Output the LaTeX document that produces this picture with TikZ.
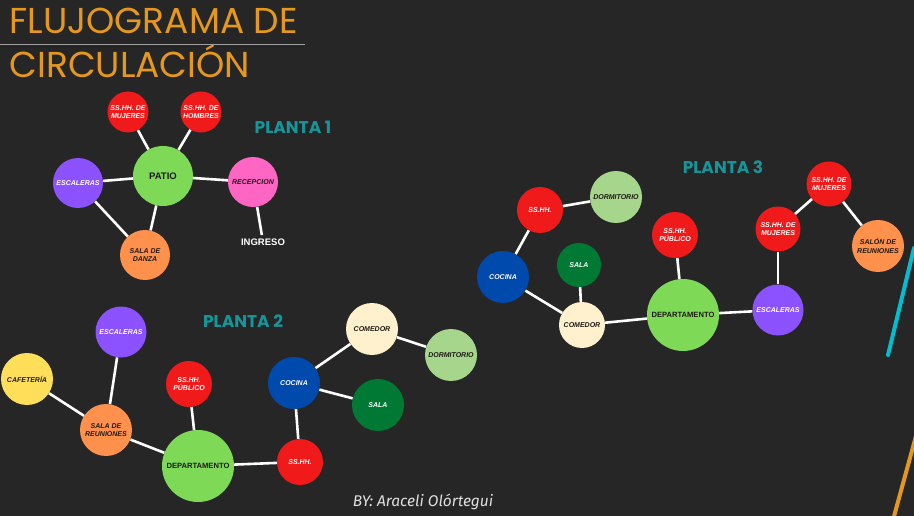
\documentclass[tikz,border=0pt]{standalone}
\usepackage{fontspec}
\setmainfont{Liberation Sans}
\newfontfamily\titlefont{Poppins}
\newfontfamily\byfont{Fira Sans}
\usepackage{xcolor}
\usetikzlibrary{positioning}
\definecolor{bgdark}{RGB}{38, 38, 38}
\definecolor{titleorange}{RGB}{229, 152, 28}
\definecolor{plantateal}{RGB}{22, 150, 155}
\definecolor{ssred}{RGB}{240, 26, 26}
\definecolor{stairpurple}{RGB}{140, 82, 255}
\definecolor{limegreen}{RGB}{126, 217, 87}
\definecolor{hotpink}{RGB}{255, 102, 196}
\definecolor{softorange}{RGB}{255, 145, 77}
\definecolor{sunyellow}{RGB}{255, 222, 89}
\definecolor{deepblue}{RGB}{0, 74, 173}
\definecolor{forestgreen}{RGB}{0, 121, 52}
\definecolor{cream}{RGB}{255, 241, 206}
\definecolor{palegreen}{RGB}{166, 214, 140}
\definecolor{ink}{RGB}{30, 25, 20}
\definecolor{decocyan}{RGB}{0, 190, 210}

\begin{document}
\begin{tikzpicture}[x=1pt, y=-1pt,
  room/.style={circle, inner sep=0pt, minimum size=#1pt, align=center,
               font=\fontsize{7}{8.2}\selectfont\bfseries\itshape},
  dept/.style={circle, inner sep=0pt, minimum size=72pt, fill=limegreen, text=ink,
               font=\fontsize{7.6}{9}\selectfont\bfseries},
  planta/.style={text=plantateal, font=\titlefont\bfseries\fontsize{17}{17}\selectfont},
  link/.style={white, line width=2.6pt}
]
  \useasboundingbox (0,0) rectangle (914,516);
  \fill[bgdark] (0,0) rectangle (914,516);

  \node[anchor=base west, text=titleorange, font=\titlefont\fontsize{36}{36}\selectfont] (title1) at (6,34) {FLUJOGRAMA DE};
  \node[anchor=base west, text=titleorange, font=\titlefont\fontsize{36}{36}\selectfont] (title2) at (6,78) {CIRCULACIÓN};
  \draw[gray!75, line width=1pt] (0,45) -- (305,45);

  % planta 1
  \node[planta] (lbl1) at (293,127) {PLANTA 1};
  \node[room=41, fill=ssred, text=white] (muj1) at (128,112) {SS.HH. DE\\MUJERES};
  \node[room=41, fill=ssred, text=white] (hom1) at (201,112) {SS.HH. DE\\HOMBRES};
  \node[room=60, fill=limegreen, text=ink, font=\fontsize{9.5}{11}\selectfont\bfseries] (patio1) at (163,176) {PATIO};
  \node[room=50, fill=stairpurple, text=white] (esc1) at (78,183) {ESCALERAS};
  \node[room=50, fill=hotpink, text=ink] (rec1) at (253,182) {RECEPCION};
  \node[room=50, fill=softorange, text=ink] (danza1) at (145,255) {SALA DE\\DANZA};
  \node[text=white, font=\fontsize{9.5}{11}\selectfont\bfseries] (ing1) at (263,242) {INGRESO};

  \draw[link] (muj1) -- (patio1);
  \draw[link] (hom1) -- (patio1);
  \draw[link] (esc1) -- (patio1);
  \draw[link] (patio1) -- (rec1);
  \draw[link] (patio1) -- (danza1);
  \draw[link] (esc1) -- (danza1);
  \draw[link] (rec1) -- (ing1);

  % planta 2
  \node[planta] (lbl2) at (243,321) {PLANTA 2};
  \node[room=51, fill=stairpurple, text=white] (esc2) at (121,332) {ESCALERAS};
  \node[room=52, fill=sunyellow, text=ink] (caf2) at (27,379) {CAFETERÍA};
  \node[room=52, fill=softorange, text=ink] (reu2) at (106,430) {SALA DE\\REUNIONES};
  \node[room=46, fill=ssred, text=white] (pub2) at (189,384) {SS.HH.\\PÚBLICO};
  \node[dept] (dep2) at (198,466) {DEPARTAMENTO};
  \node[room=52, fill=deepblue, text=white] (coc2) at (294,383) {COCINA};
  \node[room=52, fill=cream, text=ink] (com2) at (372,329) {COMEDOR};
  \node[room=52, fill=palegreen, text=ink] (dor2) at (451,355) {DORMITORIO};
  \node[room=52, fill=forestgreen, text=white] (sala2) at (378,405) {SALA};
  \node[room=46, fill=ssred, text=white] (ss2) at (300,462) {SS.HH.};

  \draw[link] (caf2) -- (reu2);
  \draw[link] (esc2) -- (reu2);
  \draw[link] (reu2) -- (dep2);
  \draw[link] (pub2) -- (dep2);
  \draw[link] (dep2) -- (ss2);
  \draw[link] (ss2) -- (coc2);
  \draw[link] (coc2) -- (com2);
  \draw[link] (coc2) -- (sala2);
  \draw[link] (com2) -- (dor2);

  % planta 3
  \node[planta] (lbl3) at (723,167) {PLANTA 3};
  \node[room=46, fill=ssred, text=white] (ss3) at (540,210) {SS.HH.};
  \node[room=52, fill=palegreen, text=ink] (dor3) at (616,197) {DORMITORIO};
  \node[room=52, fill=deepblue, text=white] (coc3) at (503,277) {COCINA};
  \node[room=44, fill=forestgreen, text=white] (sala3) at (579,265) {SALA};
  \node[room=46, fill=cream, text=ink] (com3) at (582,325) {COMEDOR};
  \node[room=46, fill=ssred, text=white] (pub3) at (675,235) {SS.HH.\\PÚBLICO};
  \node[dept] (dep3) at (683,315) {DEPARTAMENTO};
  \node[room=51, fill=stairpurple, text=white] (esc3) at (778,310) {ESCALERAS};
  \node[room=45, fill=ssred, text=white] (muja3) at (778,229) {SS.HH. DE\\MUJERES};
  \node[room=45, fill=ssred, text=white] (mujb3) at (829,184) {SS.HH. DE\\MUJERES};
  \node[room=52, fill=softorange, text=ink] (salon3) at (878,246) {SALÓN DE\\REUNIONES};

  \draw[link] (ss3) -- (dor3);
  \draw[link] (ss3) -- (coc3);
  \draw[link] (coc3) -- (com3);
  \draw[link] (sala3) -- (com3);
  \draw[link] (com3) -- (dep3);
  \draw[link] (pub3) -- (dep3);
  \draw[link] (dep3) -- (esc3);
  \draw[link] (esc3) -- (muja3);
  \draw[link] (muja3) -- (mujb3);
  \draw[link] (mujb3) -- (salon3);

  \node[text=white!88!black, font=\byfont\itshape\fontsize{15.5}{17}\selectfont] (autor) at (423,502) {BY: Araceli Olórtegui};

  \draw[decocyan, line width=4pt, line cap=round] (914,248) -- (888,355);
  \draw[titleorange, line width=4pt] (916,436) -- (893,520);
\end{tikzpicture}
\end{document}
